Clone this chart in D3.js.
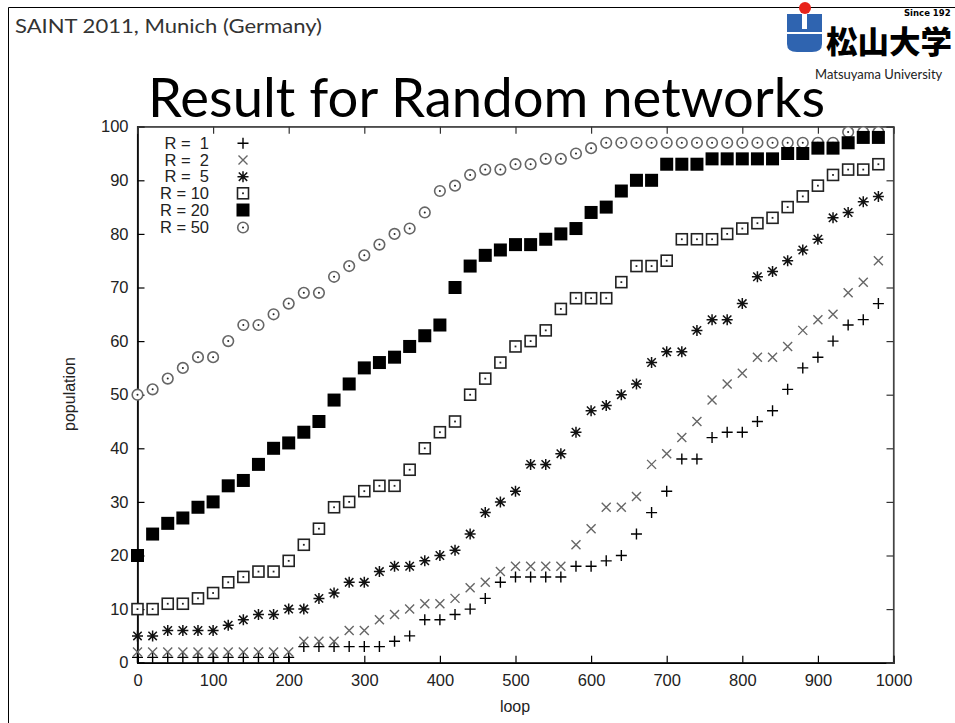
<!DOCTYPE html>
<html>
<head>
<meta charset="utf-8">
<script src="https://cdn.jsdelivr.net/npm/d3@7"></script>
<style>
  html, body { margin: 0; padding: 0; background: #fff; }
  svg { display: block; }
  text { white-space: pre; }
</style>
</head>
<body>
<svg id="slide" width="955" height="723"></svg>
<script>
// Simulation snapshots: population reached after each loop count, per radio range R
const loops = [0, 20, 40, 60, 80, 100, 120, 140, 160, 180,
               200, 220, 240, 260, 280, 300, 320, 340, 360, 380,
               400, 420, 440, 460, 480, 500, 520, 540, 560, 580,
               600, 620, 640, 660, 680, 700, 720, 740, 760, 780,
               800, 820, 840, 860, 880, 900, 920, 940, 960, 980];

const r1  = [1, 1, 1, 1, 1, 1, 1, 1, 1, 1,
             1, 3, 3, 3, 3, 3, 3, 4, 5, 8,
             8, 9, 10, 12, 15, 16, 16, 16, 16, 18,
             18, 19, 20, 24, 28, 32, 38, 38, 42, 43,
             43, 45, 47, 51, 55, 57, 60, 63, 64, 67];

const r2  = [2, 2, 2, 2, 2, 2, 2, 2, 2, 2,
             2, 4, 4, 4, 6, 6, 8, 9, 10, 11,
             11, 12, 14, 15, 17, 18, 18, 18, 18, 22,
             25, 29, 29, 31, 37, 39, 42, 45, 49, 52,
             54, 57, 57, 59, 62, 64, 65, 69, 71, 75];

const r5  = [5, 5, 6, 6, 6, 6, 7, 8, 9, 9,
             10, 10, 12, 13, 15, 15, 17, 18, 18, 19,
             20, 21, 24, 28, 30, 32, 37, 37, 39, 43,
             47, 48, 50, 52, 56, 58, 58, 62, 64, 64,
             67, 72, 73, 75, 77, 79, 83, 84, 86, 87];

const r10 = [10, 10, 11, 11, 12, 13, 15, 16, 17, 17,
             19, 22, 25, 29, 30, 32, 33, 33, 36, 40,
             43, 45, 50, 53, 56, 59, 60, 62, 66, 68,
             68, 68, 71, 74, 74, 75, 79, 79, 79, 80,
             81, 82, 83, 85, 87, 89, 91, 92, 92, 93];

const r20 = [20, 24, 26, 27, 29, 30, 33, 34, 37, 40,
             41, 43, 45, 49, 52, 55, 56, 57, 59, 61,
             63, 70, 74, 76, 77, 78, 78, 79, 80, 81,
             84, 85, 88, 90, 90, 93, 93, 93, 94, 94,
             94, 94, 94, 95, 95, 96, 96, 97, 98, 98];

const r50 = [50, 51, 53, 55, 57, 57, 60, 63, 63, 65,
             67, 69, 69, 72, 74, 76, 78, 80, 81, 84,
             88, 89, 91, 92, 92, 93, 93, 94, 94, 95,
             96, 97, 97, 97, 97, 97, 97, 97, 97, 97,
             97, 97, 97, 97, 97, 97, 97, 99, 99, 99];

const seriesNames = ["R =  1", "R =  2", "R =  5", "R = 10", "R = 20", "R = 50"];
const seriesValues = [r1, r2, r5, r10, r20, r50];
const markerKinds = ["plus", "cross", "star", "box", "filledBox", "ring"];

const xTicks = [0, 100, 200, 300, 400, 500, 600, 700, 800, 900, 1000];
const yTicks = [0, 10, 20, 30, 40, 50, 60, 70, 80, 90, 100];

const svg = d3.select("#slide");

// ---- slide frame and header ----
svg.append("line").attr("x1", 8.5).attr("y1", 7.5).attr("x2", 955).attr("y2", 7.5)
  .attr("stroke", "#000").attr("stroke-width", 1);
svg.append("line").attr("x1", 8.5).attr("y1", 7.5).attr("x2", 8.5).attr("y2", 723)
  .attr("stroke", "#000").attr("stroke-width", 1);

svg.append("text").attr("x", 15).attr("y", 33)
  .attr("font-family", "Lato, 'Open Sans', sans-serif").attr("font-size", 20)
  .attr("fill", "#333").attr("textLength", 307).attr("lengthAdjust", "spacingAndGlyphs")
  .text("SAINT 2011, Munich (Germany)");

svg.append("text").attr("x", 148).attr("y", 117)
  .attr("font-family", "Lato, 'Open Sans', sans-serif").attr("font-size", 54)
  .attr("fill", "#000").attr("textLength", 677).attr("lengthAdjust", "spacingAndGlyphs")
  .text("Result for Random networks");

// university logo
const logo = svg.append("g");
logo.append("path")
  .attr("d", "M787,14H822V44Q822,52 812,52H797Q787,52 787,44Z")
  .attr("fill", "#2f64b0");
logo.append("rect").attr("x", 802).attr("y", 14).attr("width", 5).attr("height", 15)
  .attr("fill", "#fff");
logo.append("rect").attr("x", 787).attr("y", 32).attr("width", 35).attr("height", 2)
  .attr("fill", "#fff");
logo.append("circle").attr("cx", 805).attr("cy", 8).attr("r", 6).attr("fill", "#e8231a");
logo.append("text").attr("x", 826).attr("y", 53)
  .attr("font-family", "'Noto Sans CJK JP', sans-serif").attr("font-weight", 900)
  .attr("font-size", 31).attr("fill", "#000")
  .attr("textLength", 126).attr("lengthAdjust", "spacingAndGlyphs").text("松山大学");
logo.append("text").attr("x", 904).attr("y", 16)
  .attr("font-family", "'DejaVu Sans', sans-serif").attr("font-weight", "bold")
  .attr("font-size", 8.5).attr("fill", "#000").text("Since 192");
logo.append("text").attr("x", 815).attr("y", 79)
  .attr("font-family", "Lato, sans-serif").attr("font-size", 13)
  .attr("fill", "#222").text("Matsuyama University");

// ---- chart ----
const x = d3.scaleLinear().domain([0, 1000]).range([137.5, 893.5]);
const y = d3.scaleLinear().domain([0, 100]).range([662.7, 126.7]);

const axisFont = "'Liberation Sans', Arial, sans-serif";

// plot border (top and right)
svg.append("rect")
  .attr("x", x(0)).attr("y", y(100))
  .attr("width", x(1000) - x(0)).attr("height", y(0) - y(100))
  .attr("fill", "none").attr("stroke", "#444").attr("stroke-width", 1.2);

const gx = svg.append("g").attr("transform", `translate(0,${y(0)})`)
  .call(d3.axisBottom(x).tickValues(xTicks).tickSize(-7).tickPadding(12).tickFormat(d3.format("d")));
const gy = svg.append("g").attr("transform", `translate(${x(0)},0)`)
  .call(d3.axisLeft(y).tickValues(yTicks).tickSize(-7).tickPadding(9).tickFormat(d3.format("d")));
const gxTop = svg.append("g").attr("transform", `translate(0,${y(100)})`)
  .call(d3.axisTop(x).tickValues(xTicks).tickSize(-7).tickFormat(""));
const gyRight = svg.append("g").attr("transform", `translate(${x(1000)},0)`)
  .call(d3.axisRight(y).tickValues(yTicks).tickSize(-7).tickFormat(""));

[gx, gy].forEach(g => {
  g.select(".domain").attr("stroke", "#000").attr("stroke-width", 1.6);
  g.selectAll(".tick line").attr("stroke", "#000").attr("stroke-width", 1.2);
  g.selectAll(".tick text").attr("font-family", axisFont).attr("font-size", 16.5).attr("fill", "#222");
});
[gxTop, gyRight].forEach(g => {
  g.select(".domain").attr("stroke", "#444").attr("stroke-width", 1.2);
  g.selectAll(".tick line").attr("stroke", "#333").attr("stroke-width", 1.2);
});

svg.append("text").attr("x", 515).attr("y", 712).attr("text-anchor", "middle")
  .attr("font-family", axisFont).attr("font-size", 16).attr("fill", "#222").text("loop");
svg.append("text").attr("transform", "translate(75,394) rotate(-90)").attr("text-anchor", "middle")
  .attr("font-family", axisFont).attr("font-size", 16).attr("fill", "#222").text("population");

// marker drawing, centred on (0,0)
function drawMarker(sel, kind) {
  if (kind === "plus") {
    sel.append("path").attr("d", "M-5.5,0H5.5M0,-5.5V5.5")
      .attr("stroke", "#000").attr("stroke-width", 1.4).attr("fill", "none");
  } else if (kind === "cross") {
    sel.append("path").attr("d", "M-4.5,-4.5L4.5,4.5M-4.5,4.5L4.5,-4.5")
      .attr("stroke", "#666").attr("stroke-width", 1.4).attr("fill", "none");
  } else if (kind === "star") {
    sel.append("path").attr("d", "M-5.5,0H5.5M0,-5.5V5.5M-4.2,-4.2L4.2,4.2M-4.2,4.2L4.2,-4.2")
      .attr("stroke", "#111").attr("stroke-width", 1.5).attr("fill", "none");
  } else if (kind === "box") {
    sel.append("rect").attr("x", -5.5).attr("y", -5.5).attr("width", 11).attr("height", 11)
      .attr("stroke", "#222").attr("stroke-width", 1.6).attr("fill", "#fff");
    sel.append("rect").attr("x", -0.9).attr("y", -0.9).attr("width", 1.8).attr("height", 1.8)
      .attr("fill", "#222");
  } else if (kind === "filledBox") {
    sel.append("rect").attr("x", -6.5).attr("y", -6.5).attr("width", 13).attr("height", 13)
      .attr("fill", "#000");
  } else if (kind === "ring") {
    sel.append("circle").attr("r", 5.3).attr("stroke", "#666").attr("stroke-width", 1.6)
      .attr("fill", "#fff");
    sel.append("circle").attr("r", 1).attr("fill", "#222");
  }
}

// series (R = 50 first so the denser series sit on top)
const drawOrder = [5, 0, 1, 2, 3, 4];
drawOrder.forEach(si => {
  const vals = seriesValues[si];
  const g = svg.append("g").attr("class", "series");
  g.selectAll("g.pt").data(loops.map((l, i) => ({ l, v: vals[i] })))
    .join("g").attr("class", "pt")
    .attr("transform", d => `translate(${x(d.l)},${y(d.v)})`)
    .each(function () { drawMarker(d3.select(this), markerKinds[si]); });
});

// legend
const legendRowY = [143.3, 160, 176.7, 193.3, 210, 227.5];
seriesNames.forEach((name, i) => {
  svg.append("text").attr("x", 209).attr("y", legendRowY[i]).attr("dy", "0.35em")
    .attr("text-anchor", "end").attr("font-family", axisFont).attr("font-size", 16.5)
    .attr("fill", "#222").text(name);
  const m = svg.append("g").attr("transform", `translate(243,${legendRowY[i]})`);
  drawMarker(m, markerKinds[i]);
});
</script>
</body>
</html>
